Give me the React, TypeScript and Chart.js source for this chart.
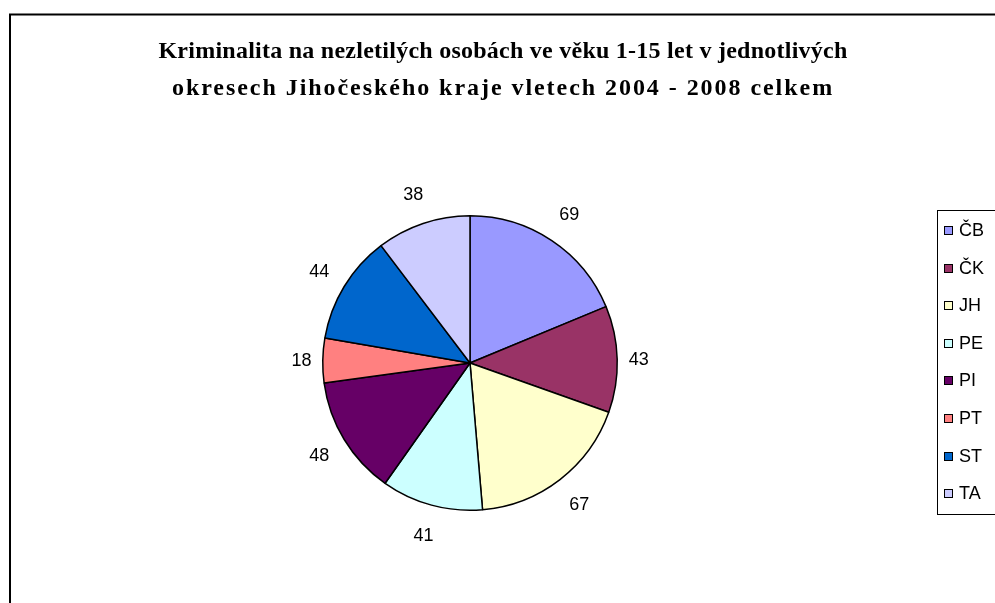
import React, { useEffect, useRef } from "react";
import { Chart, registerables } from "chart.js";

Chart.register(...registerables);

const categories = ["ČB", "ČK", "JH", "PE", "PI", "PT", "ST", "TA"];
const values = [69, 43, 67, 41, 48, 18, 44, 38];
const colors = ["#9999FF", "#993366", "#FFFFCC", "#CCFFFF", "#660066", "#FF8080", "#0066CC", "#CCCCFF"];
const titleLines = [
  "Kriminalita na nezletilých osobách ve věku 1-15 let v jednotlivých",
  "okresech Jihočeského kraje vletech 2004 - 2008 celkem",
];
const titleSpacing = ["0.25px", "1.95px"];

const decorPlugin = {
  id: "decor",
  beforeDraw(chart: any) {
    const ctx = chart.ctx;
    ctx.save();
    ctx.fillStyle = "#ffffff";
    ctx.fillRect(0, 0, chart.width, chart.height);
    // frame
    ctx.strokeStyle = "#000000";
    ctx.lineWidth = 2;
    ctx.strokeRect(10, 14.5, 2000, 2000);
    // title
    ctx.fillStyle = "#000000";
    ctx.font = "bold 24px 'Liberation Serif', 'Times New Roman', serif";
    ctx.textAlign = "center";
    ctx.textBaseline = "alphabetic";
    ctx.letterSpacing = titleSpacing[0];
    ctx.fillText(titleLines[0], 503, 58);
    ctx.letterSpacing = titleSpacing[1];
    ctx.fillText(titleLines[1], 503, 95);
    ctx.letterSpacing = "0px";
    // legend
    ctx.lineWidth = 1;
    ctx.strokeStyle = "#000000";
    ctx.strokeRect(937.5, 210.5, 200, 304);
    ctx.font = "18px 'Liberation Sans', Arial, sans-serif";
    ctx.textAlign = "left";
    ctx.textBaseline = "middle";
    categories.forEach((c, i) => {
      const y = 230 + i * 37.6;
      const top = Math.round(y - 4) + 0.5;
      ctx.fillStyle = colors[i];
      ctx.fillRect(944.5, top, 8, 8);
      ctx.strokeStyle = "#000000";
      ctx.strokeRect(944.5, top, 8, 8);
      ctx.fillStyle = "#000000";
      ctx.fillText(c, 959, y + 1);
    });
    ctx.restore();
  },
  afterDatasetsDraw(chart: any) {
    const ctx = chart.ctx;
    const meta = chart.getDatasetMeta(0);
    ctx.save();
    ctx.font = "18px 'Liberation Sans', Arial, sans-serif";
    ctx.fillStyle = "#000000";
    ctx.textAlign = "center";
    ctx.textBaseline = "middle";
    meta.data.forEach((arc: any, i: number) => {
      const { x, y, startAngle, endAngle, outerRadius } = arc.getProps(
        ["x", "y", "startAngle", "endAngle", "outerRadius"],
        true
      );
      const mid = (startAngle + endAngle) / 2;
      const c = Math.cos(mid);
      const s = Math.sin(mid);
      const r = outerRadius + 9 + Math.abs(c) * 12 + Math.abs(s) * 19;
      ctx.fillText(String(values[i]), x + c * r, y + s * r + 1);
    });
    ctx.restore();
  },
};

export default function App() {
  const ref = useRef<HTMLCanvasElement | null>(null);
  useEffect(() => {
    if (!ref.current) return;
    const chart = new Chart(ref.current, {
      type: "pie",
      data: {
        labels: categories,
        datasets: [
          {
            data: values,
            backgroundColor: colors,
            borderColor: "#000000",
            borderWidth: 1.5,
          },
        ],
      },
      options: {
        responsive: false,
        animation: false,
        layout: { padding: { left: 322, right: 377, top: 215, bottom: 92 } },
        plugins: {
          legend: { display: false },
          title: { display: false },
          tooltip: { enabled: false },
        },
      },
      plugins: [decorPlugin],
    });
    return () => chart.destroy();
  }, []);
  return (
    <div style={{ position: "absolute", left: 0, top: 0, width: 995, height: 603, overflow: "hidden" }}>
      <canvas ref={ref} width={995} height={603} style={{ display: "block" }} />
    </div>
  );
}
